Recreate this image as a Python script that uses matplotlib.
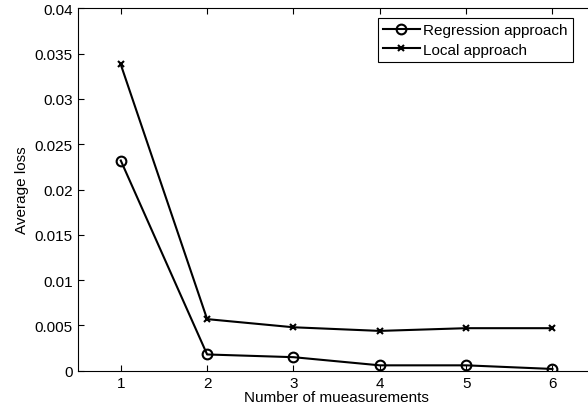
import numpy as np
import matplotlib
matplotlib.use("Agg")
from matplotlib import pyplot as plt

plt.rcParams['font.family'] = ['Liberation Sans', 'DejaVu Sans']

# data
measurements = [1, 2, 3, 4, 5, 6]
regression = [0.0232, 0.0018, 0.0015, 0.0006, 0.0006, 0.0002]
local = [0.0338, 0.0057, 0.0048, 0.0044, 0.0047, 0.0047]

fig = plt.figure(figsize=(5.88, 4.14), dpi=100)
# axes run past the right edge, like the cropped original
ax = fig.add_axes([0.132, 0.102, 0.881, 0.8755])

ax.plot(measurements, regression, color='black', lw=1.5, marker='o',
        markersize=7, markerfacecolor='none', markeredgewidth=1.5,
        label='Regression approach')
ax.plot(measurements, local, color='black', lw=1.5, marker='x',
        markersize=5, markeredgewidth=1.5, label='Local approach')

ax.set_xlim(0.5, 6.5)
ax.set_ylim(0, 0.04)
ax.set_xticks(measurements)
ax.set_yticks(np.arange(0, 0.0401, 0.005))
ax.set_yticklabels(['0', '0.005', '0.01', '0.015', '0.02', '0.025',
                    '0.03', '0.035', '0.04'])
ax.tick_params(direction='in', top=True, labelsize=11, length=4, width=0.8)
ax.set_xlabel('Number of mueasurements', fontsize=11, labelpad=0)
ax.set_ylabel('Average loss', fontsize=11, labelpad=4)

leg = ax.legend(loc='upper right', bbox_to_anchor=(0.974, 0.954),
                bbox_transform=fig.transFigure, fontsize=11, fancybox=False,
                framealpha=1, edgecolor='black', borderpad=0.35,
                labelspacing=0.35, handlelength=2.4, handletextpad=0.2,
                borderaxespad=0)
leg.get_frame().set_linewidth(0.8)

fig.savefig('out.png', dpi=100)
